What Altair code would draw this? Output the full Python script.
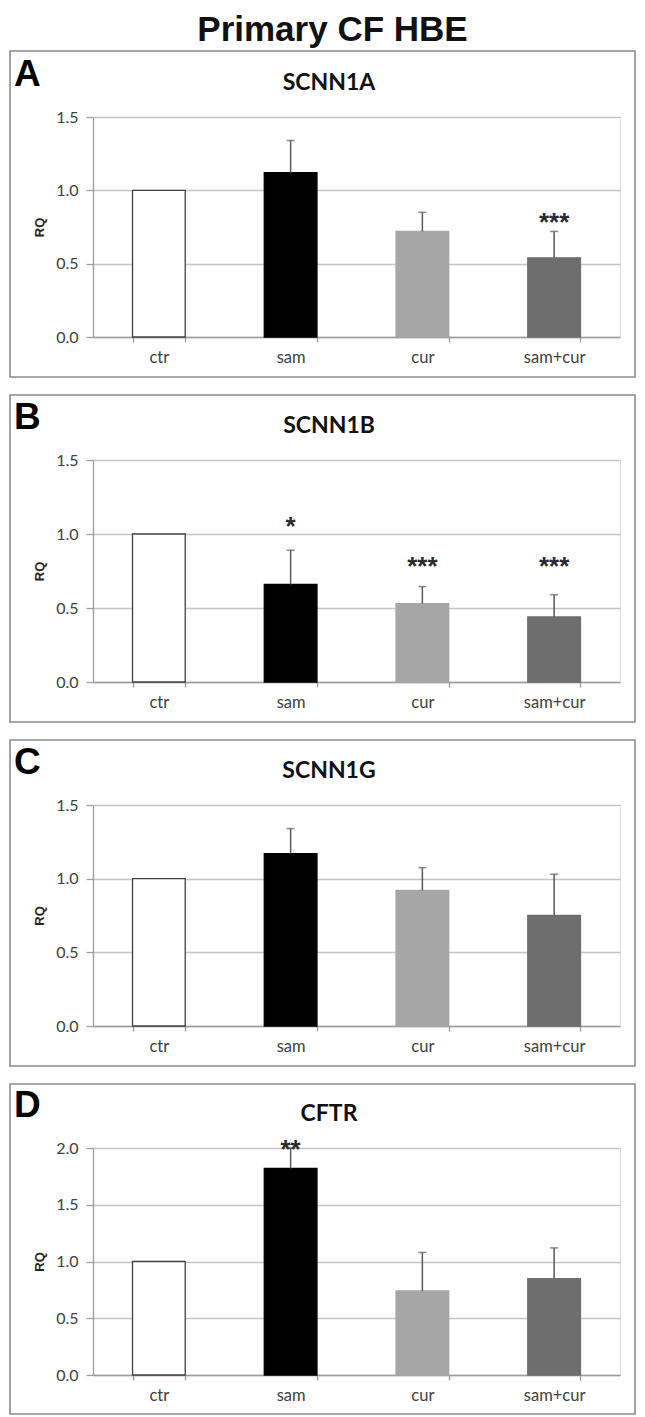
import altair as alt
import pandas as pd

# ---------------- data ----------------
categories = ["ctr", "sam", "cur", "sam+cur"]
bar_fill = ["#ffffff", "#000000", "#a6a6a6", "#6e6e6e"]
bar_edge = ["#404040", "#000000", "#a6a6a6", "#6e6e6e"]

panel_letters = ["A", "B", "C", "D"]
panel_genes = ["SCNN1A", "SCNN1B", "SCNN1G", "CFTR"]
panel_ymax = [1.5, 1.5, 1.5, 2.0]

scnn1a_mean = [1.00, 1.12, 0.72, 0.54]
scnn1a_err = [0.00, 0.22, 0.13, 0.18]
scnn1a_stars = ["", "", "", "***"]
scnn1a_star_y = [0.0, 0.0, 0.0, 0.83]

scnn1b_mean = [1.00, 0.66, 0.53, 0.44]
scnn1b_err = [0.00, 0.23, 0.115, 0.15]
scnn1b_stars = ["", "*", "***", "***"]
scnn1b_star_y = [0.0, 1.10, 0.83, 0.83]

scnn1g_mean = [1.00, 1.17, 0.92, 0.75]
scnn1g_err = [0.00, 0.17, 0.155, 0.28]
scnn1g_stars = ["", "", "", ""]
scnn1g_star_y = [0.0, 0.0, 0.0, 0.0]

cftr_mean = [1.00, 1.82, 0.74, 0.85]
cftr_err = [0.00, 0.18, 0.34, 0.27]
cftr_stars = ["", "**", "", ""]
cftr_star_y = [0.0, 2.05, 0.0, 0.0]

panel_means = [scnn1a_mean, scnn1b_mean, scnn1g_mean, cftr_mean]
panel_errs = [scnn1a_err, scnn1b_err, scnn1g_err, cftr_err]
panel_stars = [scnn1a_stars, scnn1b_stars, scnn1g_stars, cftr_stars]
panel_star_y = [scnn1a_star_y, scnn1b_star_y, scnn1g_star_y, cftr_star_y]

# ---------------- styling ----------------
PLOT_W = 527
panel_heights = [220, 222, 221, 227]
box_top = [-66, -65, -65, -64]
box_bottom = [40, 40, 40, 39]

LABEL_FONT = "Lato, Open Sans, sans-serif"
SANS = "Liberation Sans, Arial, sans-serif"
GRID = "#c4c4c4"
AXIS = "#9c9c9c"
ERR = "#595959"


def panel(i):
    means = panel_means[i]
    errs = panel_errs[i]
    df = pd.DataFrame({
        "cat": categories,
        "mean": means,
        "hi": [m + e for m, e in zip(means, errs)],
        "err": errs,
        "star": panel_stars[i],
        "star_y": panel_star_y[i],
    })
    h = panel_heights[i]
    ymax = panel_ymax[i]
    ticks = [k * 0.5 for k in range(int(ymax / 0.5) + 1)]

    x = alt.X(
        "cat:N", sort=categories, title=None,
        scale=alt.Scale(paddingInner=0.6, paddingOuter=0.3),
        axis=alt.Axis(
            labelAngle=0, tickBand="extent", tickSize=5, tickWidth=1.3,
            tickColor=AXIS, domainColor=AXIS, domainWidth=1.3,
            labelFont=LABEL_FONT, labelFontSize=16.5, labelColor="#404040",
            labelPadding=7, grid=False,
        ),
    )
    yscale = alt.Scale(domain=[0, ymax], nice=False, zero=True)
    yaxis = alt.Axis(
        values=ticks, format=".1f", grid=True, gridColor=GRID, gridWidth=1.3,
        domainColor=AXIS, domainWidth=1.3, tickColor=AXIS, tickWidth=1.3,
        tickSize=7, labelFont=LABEL_FONT, labelFontSize=16,
        labelColor="#404040", labelPadding=8,
        titleFont=SANS, titleFontSize=13,
        titleFontWeight="bold", titleColor="#262626", titlePadding=9,
    )

    def Y(field):
        return alt.Y(field, title="RQ", scale=yscale, axis=yaxis)

    base = alt.Chart(df)
    bars = base.mark_bar(strokeWidth=1.3).encode(
        x=x,
        y=Y("mean:Q"),
        fill=alt.Fill("cat:N", sort=categories,
                      scale=alt.Scale(domain=categories, range=bar_fill), legend=None),
        stroke=alt.Stroke("cat:N", sort=categories,
                          scale=alt.Scale(domain=categories, range=bar_edge), legend=None),
    )
    err_rule = base.transform_filter("datum.err > 0").mark_rule(
        color=ERR, strokeWidth=1.5
    ).encode(x=x, y=Y("mean:Q"), y2="hi:Q")
    err_cap = base.transform_filter("datum.err > 0").mark_tick(
        color=ERR, size=8, thickness=1.5, orient="horizontal"
    ).encode(x=x, y=Y("hi:Q"))
    stars = base.transform_filter("datum.star != ''").mark_text(
        font=SANS, fontSize=26, fontWeight="bold", color="#2a2a2a",
        baseline="middle", dy=8,
    ).encode(x=x, y=Y("star_y:Q"), text="star:N")

    label_df = pd.DataFrame({"letter": [panel_letters[i]], "gene": [panel_genes[i]]})
    lab = alt.Chart(label_df)
    box = lab.mark_rect(fillOpacity=0, stroke="#8c8c8c", strokeWidth=1.6).encode(
        x=alt.value(-83), x2=alt.value(PLOT_W + 15),
        y=alt.value(box_top[i]), y2=alt.value(h + box_bottom[i]),
    )
    letter = lab.mark_text(
        font=SANS, fontSize=37, fontWeight="bold",
        align="left", baseline="alphabetic", color="#000000",
    ).encode(x=alt.value(-79), y=alt.value(-31), text="letter:N")
    gene = lab.mark_text(
        font=LABEL_FONT, fontSize=23, fontWeight="bold",
        align="center", baseline="alphabetic", color="#111111",
    ).encode(x=alt.value(236), y=alt.value(-27), text="gene:N")

    return alt.layer(box, bars, err_rule, err_cap, stars, letter, gene).properties(
        width=PLOT_W, height=h
    )


chart = alt.vconcat(*[panel(i) for i in range(4)], spacing=14).properties(
    title=alt.TitleParams(
        "Primary CF HBE", font=SANS, fontSize=35,
        fontWeight="bold", anchor="middle", color="#111111", offset=2, dx=10,
    ),
    padding={"top": 4, "left": 0, "right": 0, "bottom": 0},
).configure_view(stroke=None).configure(background="white")

chart.save("out.html", embed_options={"renderer": "svg", "actions": False})
